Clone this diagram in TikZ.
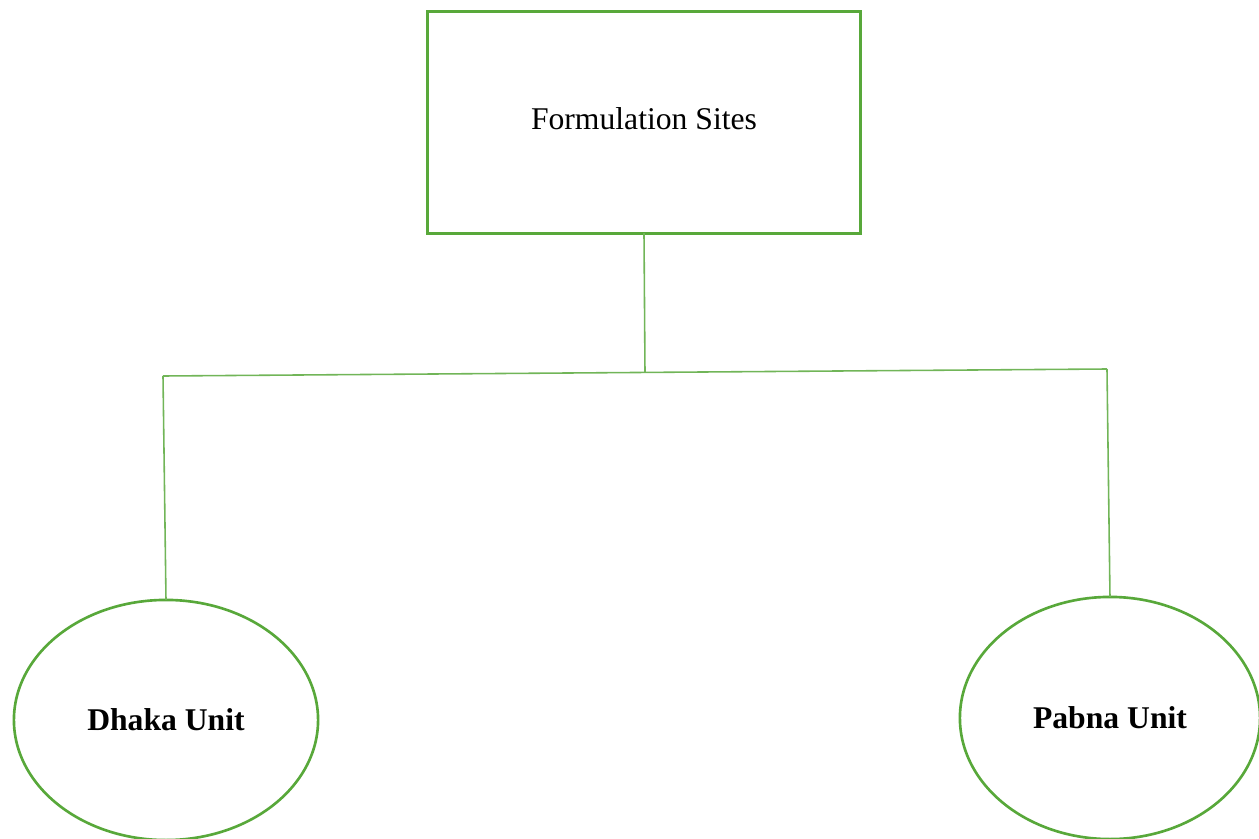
\documentclass[tikz,border=0pt]{standalone}
\usepackage{fontspec}
\setmainfont{Liberation Serif}
\usetikzlibrary{shapes.geometric}
\definecolor{sitegreen}{RGB}{88,168,58}
\tikzstyle{site}=[
	rectangle,
	draw=sitegreen,
	line width=0.85pt,
	inner sep=0pt,
	outer sep=0pt,
	minimum width=4.32cm,
	minimum height=2.21cm,
	font=\fontsize{9}{11}\selectfont
]
\tikzstyle{unit}=[
	ellipse,
	draw=sitegreen,
	line width=0.75pt,
	inner sep=0pt,
	outer sep=0pt,
	font=\bfseries\fontsize{9}{11}\selectfont
]
\tikzstyle{branch}=[
	draw=sitegreen!85!white,
	line width=0.45pt
]

\begin{document}
\begin{tikzpicture}[x=0.01cm,y=-0.01cm]
\useasboundingbox (0,0) rectangle (1259,839);
\node [site] (Formulation) at (644,122.5) {\raisebox{2.5pt}{Formulation Sites}};
\node [unit, minimum width=3.04cm, minimum height=2.40cm] (Dhaka) at (166,720) {Dhaka Unit};
\node [unit, minimum width=3.00cm, minimum height=2.42cm] (Pabna) at (1110,718) {Pabna Unit};
\coordinate (Joint) at (645,372);
\coordinate (LeftEnd) at (163,376);
\coordinate (RightEnd) at (1107,369);
\draw [branch] (Formulation.south) -- (Joint);
\draw [branch] (LeftEnd) -- (RightEnd);
\draw [branch] (LeftEnd) -- (Dhaka.north);
\draw [branch] (RightEnd) -- (Pabna.north);
\end{tikzpicture}
\end{document}
